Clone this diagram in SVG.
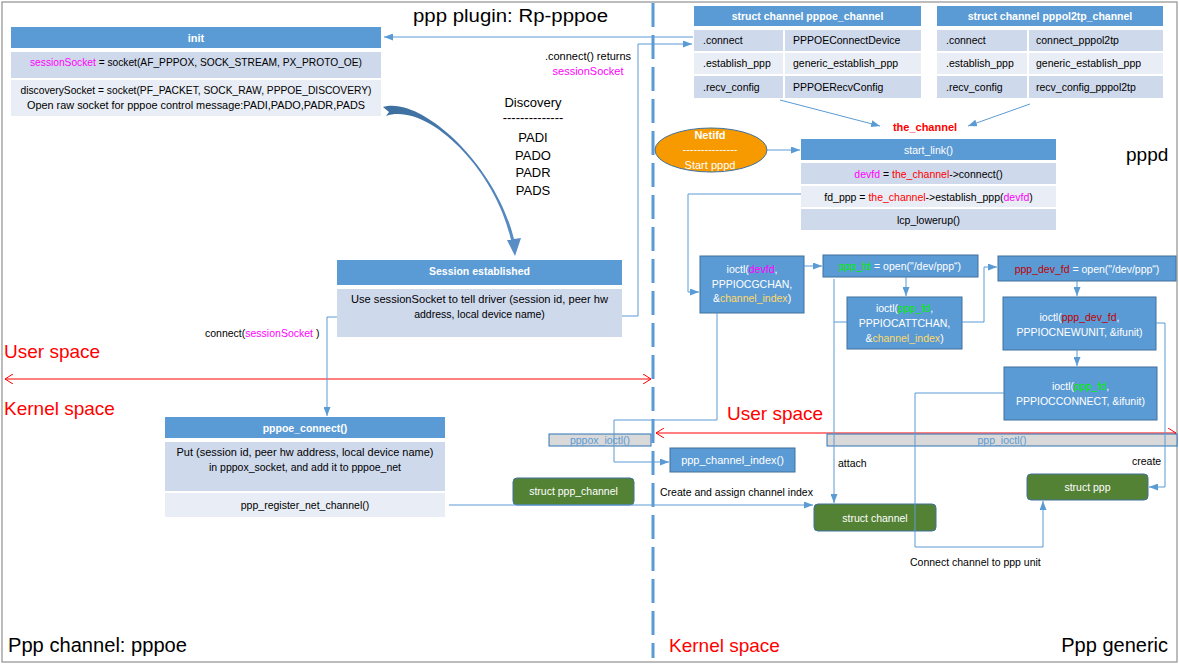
<svg xmlns="http://www.w3.org/2000/svg" width="1179" height="665" viewBox="0 0 1179 665">
<style>
text{font-family:"Liberation Sans",Arial,sans-serif;font-size:10.5px;fill:#000}
.c{text-anchor:middle}
.w{fill:#fff}
.b{font-weight:bold}
.mg{fill:#FF00FF}
.rd{fill:#FF0000}
.gd{fill:#FFD966}
.gr{fill:#00F000}
.dr{fill:#C00000}
.lb{fill:#5B9BD5}
.big{font-size:19px}
.disc{font-size:13px}
.hdr{fill:#5B9BD5}
.r1{fill:#CFD9EC}
.r2{fill:#E9EDF5}
.box{fill:#5B9BD5;stroke:#41719C;stroke-width:1}
.grn{fill:#548235;stroke:#41719C;stroke-width:1}
.gray{fill:#D9D9D9;stroke:#2E75B6;stroke-width:1}
.conn{fill:none;stroke:#5B9BD5;stroke-width:1}
.redl{fill:none;stroke:#FF0000;stroke-width:1}
</style>
<defs>
<marker id="ah" viewBox="0 0 9 7" refX="9" refY="3.5" markerWidth="9" markerHeight="7" markerUnits="userSpaceOnUse" orient="auto"><path d="M0,0 L9,3.5 L0,7 z" fill="#5B9BD5"/></marker>
<marker id="ch" viewBox="0 0 8 10" refX="8" refY="5" markerWidth="8" markerHeight="10" markerUnits="userSpaceOnUse" orient="auto-start-reverse"><path d="M0,0 L8,5 L0,10" fill="none" stroke="#FF0000" stroke-width="1"/></marker>
<linearGradient id="cg" x1="0" y1="0" x2="1" y2="1"><stop offset="0" stop-color="#3C6E9F"/><stop offset="1" stop-color="#5B8FC7"/></linearGradient>
</defs>
<rect x="0" y="0" width="1179" height="665" fill="#fff"/>
<rect x="2" y="2" width="1175" height="660" fill="none" stroke="#A6A6A6" stroke-width="1.5"/>

<g id="separators">
<line x1="653" y1="3" x2="653" y2="658" stroke="#5B9BD5" stroke-width="3" stroke-dasharray="24 8"/>
<line x1="5" y1="379" x2="651" y2="379" class="redl" marker-start="url(#ch)" marker-end="url(#ch)"/>
<line x1="656" y1="433" x2="1176" y2="433" class="redl" marker-start="url(#ch)" marker-end="url(#ch)"/>
</g>

<g id="labels">
<text x="413" y="22" style="font-size:18px" textLength="195" lengthAdjust="spacingAndGlyphs">ppp plugin: Rp-pppoe</text>
<text x="1126" y="161" class="big">pppd</text>
<text x="4" y="358" class="big rd">User space</text>
<text x="4" y="415" class="big rd">Kernel space</text>
<text x="727" y="420" class="big rd">User space</text>
<text x="8" y="652" style="font-size:20px" textLength="179" lengthAdjust="spacingAndGlyphs">Ppp channel: pppoe</text>
<text x="669" y="652" class="big rd">Kernel space</text>
<text x="1168" y="652" style="font-size:20px;text-anchor:end">Ppp generic</text>
<text x="588" y="60" class="c" style="font-size:11px">.connect() returns</text>
<text x="588" y="75" class="c mg" style="font-size:11px">sessionSocket</text>
<text x="533" y="107" class="c disc">Discovery</text>
<text x="533" y="122" class="c disc">--------------</text>
<text x="533" y="142" class="c disc">PADI</text>
<text x="533" y="160" class="c disc">PADO</text>
<text x="533" y="177" class="c disc">PADR</text>
<text x="533" y="195" class="c disc">PADS</text>
<text x="205" y="337">connect(<tspan class="mg">sessionSocket</tspan> )</text>
<text x="925" y="131" class="c b rd" style="font-size:11px">the_channel</text>
<text x="838" y="467">attach</text>
<text x="660" y="496">Create and assign channel index</text>
<text x="1132" y="465">create</text>
<text x="910" y="566">Connect channel to ppp unit</text>
</g>

<g id="init">
<rect x="11" y="27" width="370" height="21" class="hdr"/>
<rect x="11" y="52" width="370" height="26" class="r1"/>
<rect x="11" y="80" width="370" height="36" class="r2"/>
<text x="196" y="42" class="c b w" style="font-size:11px">init</text>
<text x="196" y="66" class="c" textLength="332" lengthAdjust="spacingAndGlyphs"><tspan class="mg">sessionSocket</tspan> = socket(AF_PPPOX, SOCK_STREAM, PX_PROTO_OE)</text>
<text x="196" y="94" class="c" textLength="351" lengthAdjust="spacingAndGlyphs">discoverySocket = socket(PF_PACKET, SOCK_RAW, PPPOE_DISCOVERY)</text>
<text x="196" y="109" class="c" textLength="338" lengthAdjust="spacingAndGlyphs">Open raw socket for pppoe control message:PADI,PADO,PADR,PADS</text>
</g>

<g id="discovery-arrow">
<path d="M383,107 C420,95 496,164 514,239 L521,238 L515,256 L507,240 L511,240 C495,168 427,102 386,116 L389,112 Z" fill="url(#cg)"/>
</g>

<g id="session">
<rect x="337" y="260" width="285" height="25" class="hdr"/>
<rect x="337" y="289" width="285" height="48" class="r1"/>
<text x="479.5" y="275" class="c b w">Session established</text>
<text x="479.5" y="303" class="c" textLength="257" lengthAdjust="spacingAndGlyphs">Use  sessionSocket to tell driver (session id, peer hw</text>
<text x="479.5" y="318" class="c">address, local device name)</text>
</g>

<g id="pppoe_connect">
<rect x="165" y="417" width="280" height="21" class="hdr"/>
<rect x="165" y="442" width="280" height="49" class="r1"/>
<rect x="165" y="493" width="280" height="24" class="r2"/>
<text x="305" y="432" class="c b w">pppoe_connect()</text>
<text x="305" y="456" class="c" textLength="257" lengthAdjust="spacingAndGlyphs">Put (session id, peer hw address, local device name)</text>
<text x="305" y="471" class="c">in pppox_socket, and add it to pppoe_net</text>
<text x="305" y="509" class="c">ppp_register_net_channel()</text>
</g>

<g id="pppoe_channel">
<rect x="694" y="6" width="227" height="20" class="hdr"/>
<rect x="694" y="30" width="89" height="21" class="r1"/>
<rect x="785" y="30" width="136" height="21" class="r1"/>
<rect x="694" y="53" width="89" height="21" class="r2"/>
<rect x="785" y="53" width="136" height="21" class="r2"/>
<rect x="694" y="76" width="89" height="22" class="r1"/>
<rect x="785" y="76" width="136" height="22" class="r1"/>
<text x="807.5" y="20" class="c b w">struct channel pppoe_channel</text>
<text x="703" y="44">.connect</text>
<text x="703" y="67">.establish_ppp</text>
<text x="703" y="91">.recv_config</text>
<text x="793" y="44">PPPOEConnectDevice</text>
<text x="793" y="67">generic_establish_ppp</text>
<text x="793" y="91">PPPOERecvConfig</text>
</g>

<g id="pppol2tp_channel">
<rect x="937" y="6" width="226" height="20" class="hdr"/>
<rect x="937" y="30" width="90" height="21" class="r1"/>
<rect x="1029" y="30" width="134" height="21" class="r1"/>
<rect x="937" y="53" width="90" height="21" class="r2"/>
<rect x="1029" y="53" width="134" height="21" class="r2"/>
<rect x="937" y="76" width="90" height="22" class="r1"/>
<rect x="1029" y="76" width="134" height="22" class="r1"/>
<text x="1050" y="20" class="c b w">struct channel pppol2tp_channel</text>
<text x="946" y="44">.connect</text>
<text x="946" y="67">.establish_ppp</text>
<text x="946" y="91">.recv_config</text>
<text x="1036" y="44">connect_pppol2tp</text>
<text x="1036" y="67">generic_establish_ppp</text>
<text x="1036" y="91">recv_config_pppol2tp</text>
</g>

<g id="netifd">
<ellipse cx="711" cy="150" rx="56" ry="22" fill="#F79A00" stroke="#41719C" stroke-width="1"/>
<text x="710" y="139" class="c b w" style="font-size:11px">Netifd</text>
<text x="710" y="153" class="c w" style="font-size:11px">---------------</text>
<text x="710" y="169" class="c w" style="font-size:11px">Start pppd</text>
</g>

<g id="start_link">
<rect x="801" y="139" width="255" height="21" class="hdr"/>
<rect x="801" y="163" width="255" height="21" class="r1"/>
<rect x="801" y="186" width="255" height="21" class="r2"/>
<rect x="801" y="209" width="255" height="21" class="r1"/>
<text x="928.5" y="154" class="c w">start_link()</text>
<text x="928.5" y="178" class="c"><tspan class="mg">devfd</tspan> = <tspan class="rd">the_channel</tspan>-&gt;connect()</text>
<text x="928.5" y="201" class="c">fd_ppp = <tspan class="rd">the_channel</tspan>-&gt;establish_ppp(<tspan class="mg">devfd</tspan>)</text>
<text x="928.5" y="224" class="c">lcp_lowerup()</text>
</g>

<g id="ioctl_gchan">
<rect x="700" y="256" width="104" height="57" class="box"/>
<text x="752" y="273" class="c w">ioctl(<tspan class="mg">devfd</tspan>,</text>
<text x="752" y="288" class="c w">PPPIOCGCHAN,</text>
<text x="752" y="302" class="c w">&amp;<tspan class="gd">channel_index</tspan>)</text>
</g>

<g id="open_ppp_fd">
<rect x="823" y="255" width="155" height="22" class="box"/>
<text x="900" y="270" class="c w"><tspan class="gr">ppp_fd</tspan> = open("/dev/ppp“)</text>
</g>

<g id="ioctl_attchan">
<rect x="847" y="297" width="115" height="52" class="box"/>
<text x="904.5" y="312" class="c w">ioctl(<tspan class="gr">ppp_fd</tspan>,</text>
<text x="904.5" y="327" class="c w">PPPIOCATTCHAN,</text>
<text x="904.5" y="342" class="c w">&amp;<tspan class="gd">channel_index</tspan>)</text>
</g>

<g id="open_ppp_dev_fd">
<rect x="998" y="256" width="178" height="25" class="box"/>
<text x="1087" y="273" class="c w"><tspan class="dr">ppp_dev_fd</tspan> = open("/dev/ppp“)</text>
</g>

<g id="ioctl_newunit">
<rect x="1003" y="297" width="153" height="53" class="box"/>
<text x="1079.5" y="321" class="c w">ioctl(<tspan class="dr">ppp_dev_fd</tspan>,</text>
<text x="1079.5" y="336" class="c w">PPPIOCNEWUNIT, &amp;ifunit)</text>
</g>

<g id="ioctl_connect">
<rect x="1004" y="367" width="153" height="53" class="box"/>
<text x="1080.5" y="390" class="c w">ioctl(<tspan class="gr">ppp_fd</tspan>,</text>
<text x="1080.5" y="405" class="c w">PPPIOCCONNECT, &amp;ifunit)</text>
</g>

<g id="pppox_ioctl">
<rect x="549" y="434" width="102" height="12" class="gray"/>
<text x="600" y="444" class="c lb">pppox_ioctl()</text>
</g>

<g id="ppp_ioctl">
<rect x="827" y="434" width="350" height="12" class="gray"/>
<text x="1002" y="444" class="c lb">ppp_ioctl()</text>
</g>

<g id="ppp_channel_index">
<rect x="670" y="448" width="125" height="24" class="box"/>
<text x="732.5" y="464" class="c w" style="font-size:11px">ppp_channel_index()</text>
</g>

<g id="struct_ppp_channel">
<rect x="513" y="478" width="121" height="27" rx="4" class="grn"/>
<text x="573.5" y="495" class="c w">struct ppp_channel</text>
</g>

<g id="struct_channel">
<rect x="814" y="504" width="122" height="27" rx="4" class="grn"/>
<text x="875" y="522" class="c w">struct channel</text>
</g>

<g id="struct_ppp">
<rect x="1027" y="474" width="121" height="26" rx="4" class="grn"/>
<text x="1087.5" y="491" class="c w">struct ppp</text>
</g>

<g id="connectors">
<line x1="693" y1="37" x2="384" y2="37" class="conn" marker-end="url(#ah)"/>
<polyline points="622,316 638,316 638,44 692,44" class="conn" marker-end="url(#ah)"/>
<polyline points="337,317 327,317 327,416" class="conn" marker-end="url(#ah)"/>
<line x1="767" y1="150" x2="800" y2="150" class="conn" marker-end="url(#ah)"/>
<line x1="780" y1="100" x2="880" y2="126" class="conn" marker-end="url(#ah)"/>
<line x1="1030" y1="104" x2="968" y2="126" class="conn" marker-end="url(#ah)"/>
<polyline points="801,194 688,194 688,292 699,292" class="conn" marker-end="url(#ah)"/>
<line x1="804" y1="266" x2="822" y2="266" class="conn" marker-end="url(#ah)"/>
<line x1="906" y1="277" x2="906" y2="296" class="conn" marker-end="url(#ah)"/>
<polyline points="962,322 984,322 984,267 997,267" class="conn" marker-end="url(#ah)"/>
<line x1="1077" y1="281" x2="1077" y2="296" class="conn" marker-end="url(#ah)"/>
<line x1="1077" y1="350" x2="1077" y2="366" class="conn" marker-end="url(#ah)"/>
<polyline points="1156,323 1165,323 1165,487 1149,487" class="conn" marker-end="url(#ah)"/>
<polyline points="1004,393 915,393 915,547 1043,547 1043,501" class="conn" marker-end="url(#ah)"/>
<polyline points="717,313 717,420 614,420 614,462 669,462" class="conn" marker-end="url(#ah)"/>
<line x1="834" y1="279" x2="834" y2="503" class="conn" marker-end="url(#ah)"/>
<line x1="847" y1="322" x2="834" y2="322" class="conn"/>
<line x1="449" y1="505" x2="813" y2="505" class="conn" marker-end="url(#ah)"/>
</g>
</svg>
